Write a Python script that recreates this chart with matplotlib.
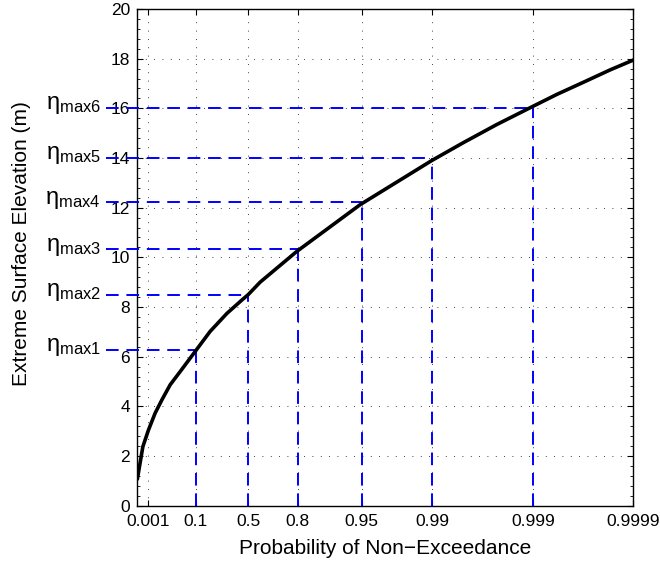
import numpy as np
import matplotlib
matplotlib.use('Agg')
import matplotlib.pyplot as plt
from matplotlib.ticker import FixedLocator, MultipleLocator
import matplotlib.transforms as mtransforms

plt.rcParams['font.family'] = ['Liberation Sans', 'DejaVu Sans']

# curve: probability of non-exceedance vs elevation (m)
prob = [1.45e-4, 4.07e-4, 1.047e-3, 2.78e-3, 6.45e-3, 0.01551, 0.0364, 0.0957,
        0.1897, 0.322, 0.448, 0.5, 0.590, 0.797, 0.9484, 0.98986, 0.99508,
        0.997715, 0.998978, 0.999423, 0.999687, 0.999831, 0.9999]
elev = [1.10, 2.38, 3.05, 3.73, 4.26, 4.87, 5.40, 6.21,
        7.02, 7.74, 8.28, 8.50, 9.00, 10.24, 12.12, 13.90, 14.62,
        15.35, 16.06, 16.56, 17.05, 17.55, 17.94]

# marked levels
mark_prob = [0.1, 0.5, 0.8, 0.95, 0.99, 0.999]
mark_elev = [6.27, 8.50, 10.33, 12.22, 14.02, 16.03]
mark_names = ['max1', 'max2', 'max3', 'max4', 'max5', 'max6']

tick_prob = [0.001, 0.1, 0.5, 0.8, 0.95, 0.99, 0.999, 0.9999]
tick_labels = ['0.001', '0.1', '0.5', '0.8', '0.95', '0.99', '0.999', '0.9999']


def gumbel(p):
    p = np.clip(np.asarray(p, dtype=float), 1e-300, 1 - 1e-16)
    return -np.log(-np.log(p))


def gumbel_inv(g):
    return np.exp(-np.exp(-np.asarray(g, dtype=float)))


fig = plt.figure(figsize=(6.6, 5.64), dpi=100)
ax = fig.add_axes([0.2076, 0.1034, 0.7515, 0.8806])
ax.set_xscale('function', functions=(gumbel, gumbel_inv))
x0, x1 = 1.32e-4, 0.9999
ax.set_xlim(x0, x1)
ax.set_ylim(0, 20)

# start of the horizontal guides, a little left of the axes
g0, g1 = gumbel(x0), gumbel(x1)
x_left = gumbel_inv(g0 - 0.062 * (g1 - g0))

dash = (0, (6.5, 4))
for p, e in zip(mark_prob, mark_elev):
    ax.plot([x_left, p], [e, e], color='b', lw=1.4, ls=dash, clip_on=False, zorder=3)
    ax.plot([p, p], [0, e], color='b', lw=1.4, ls=dash, zorder=3)

ax.plot(prob, elev, color='k', lw=2.6, zorder=4, solid_joinstyle='round')

ax.xaxis.set_major_locator(FixedLocator(tick_prob))
ax.set_xticklabels(tick_labels)
ax.xaxis.set_minor_locator(FixedLocator([]))
ax.yaxis.set_major_locator(MultipleLocator(2))
ax.yaxis.set_minor_locator(MultipleLocator(0.4))

ax.tick_params(which='both', direction='in', top=True, right=True, labelsize=12.5)
ax.tick_params(which='major', length=4, width=0.8)
ax.tick_params(which='minor', length=2, width=0.6)
ax.tick_params(axis='x', pad=6)
ax.tick_params(axis='y', pad=5)
ax.grid(True, which='major', color='k', ls=(0, (1, 9)), lw=0.6)
for s in ax.spines.values():
    s.set_linewidth(1.0)

trans = mtransforms.blended_transform_factory(ax.transAxes, ax.transData)
for e, name in zip(mark_elev, mark_names):
    ax.text(-0.073, e + 0.1, r'$\mathregular{\eta_{%s}}$' % name, transform=trans,
            ha='right', va='center', fontsize=17)

ax.set_xlabel('Probability of Non\u2212Exceedance', fontsize=15)
ax.set_ylabel('Extreme Surface Elevation (m)', fontsize=15, va='center')
ax.xaxis.set_label_coords(0.5, -0.068)
ax.yaxis.set_label_coords(-0.232, 0.527)

fig.savefig('out.png', dpi=100)
